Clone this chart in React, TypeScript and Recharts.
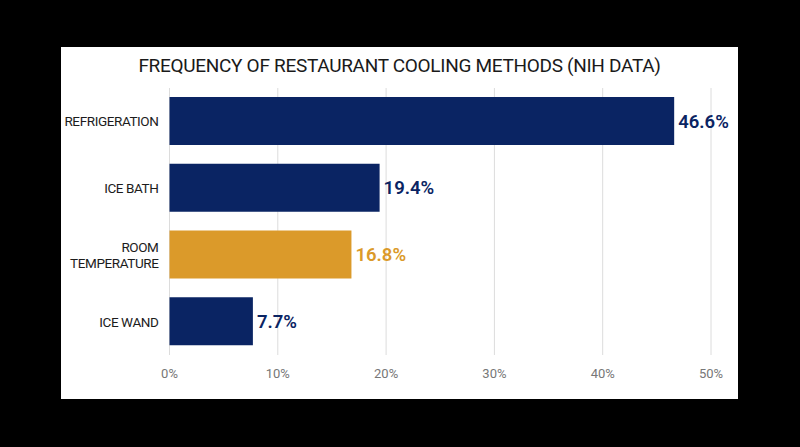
import { BarChart, Bar, XAxis, YAxis, CartesianGrid, LabelList, Cell } from "recharts";

const methods = ["REFRIGERATION", "ICE BATH", "ROOM\nTEMPERATURE", "ICE WAND"];
const shares = [46.6, 19.4, 16.8, 7.7];
const barColors = ["#0a2463", "#0a2463", "#db9a2a", "#0a2463"];
const xTicks = [0, 10, 20, 30, 40, 50];

const FONT = "Roboto, 'Open Sans', sans-serif";

const data = methods.map((method, i) => ({ method, share: shares[i], color: barColors[i] }));

// Category labels, split on \n for the two-line one
function MethodTick({ x, y, payload }: any) {
  const lines = String(payload.value).split("\n");
  const lineHeight = 16;
  const startDy = -((lines.length - 1) * lineHeight) / 2;
  return (
    <text
      x={x}
      y={y}
      textAnchor="end"
      fill="#1c1c1c"
      fontFamily={FONT}
      fontSize={13.5}
      letterSpacing={-0.4}
    >
      {lines.map((line, i) => (
        <tspan key={i} x={x} dy={i === 0 ? startDy + 5 : lineHeight}>
          {line}
        </tspan>
      ))}
    </text>
  );
}

function ValueLabel({ x, y, width, height, value, index }: any) {
  return (
    <text
      x={x + width + 4}
      y={y + height / 2}
      dy={6.5}
      fill={barColors[index]}
      fontFamily={FONT}
      fontSize={18.5}
      fontWeight={600}
    >
      {value}%
    </text>
  );
}

export default function App() {
  return (
    <div style={{ position: "fixed", inset: 0, background: "#000" }}>
      <div
        style={{
          position: "absolute",
          left: 61,
          top: 47,
          width: 677,
          height: 352,
          background: "#fff",
        }}
      >
        <div
          style={{
            position: "absolute",
            left: 0,
            right: 0,
            top: 9,
            lineHeight: "20px",
            textAlign: "center",
            fontFamily: FONT,
            fontSize: 19,
            color: "#1a1a1a",
            letterSpacing: -0.3,
          }}
        >
          FREQUENCY OF RESTAURANT COOLING METHODS (NIH DATA)
        </div>
        <BarChart
          width={677}
          height={352}
          data={data}
          layout="vertical"
          margin={{ top: 41, right: 27, left: 8, bottom: 14 }}
          barSize={48}
        >
          <CartesianGrid horizontal={false} stroke="#dcdcdc" />
          <XAxis
            type="number"
            domain={[0, 50]}
            ticks={xTicks}
            tickFormatter={(v: number) => `${v}%`}
            axisLine={false}
            tickLine={false}
            tickMargin={8}
            height={30}
            tick={{ fontSize: 13, fill: "#777", fontFamily: FONT }}
          />
          <YAxis
            type="category"
            dataKey="method"
            width={100.5}
            axisLine={false}
            tickLine={false}
            tickMargin={5}
            tick={<MethodTick />}
          />
          <Bar dataKey="share" isAnimationActive={false}>
            {data.map((d, i) => (
              <Cell key={`cell-${i}`} fill={d.color} />
            ))}
            <LabelList dataKey="share" content={<ValueLabel />} />
          </Bar>
        </BarChart>
      </div>
    </div>
  );
}
